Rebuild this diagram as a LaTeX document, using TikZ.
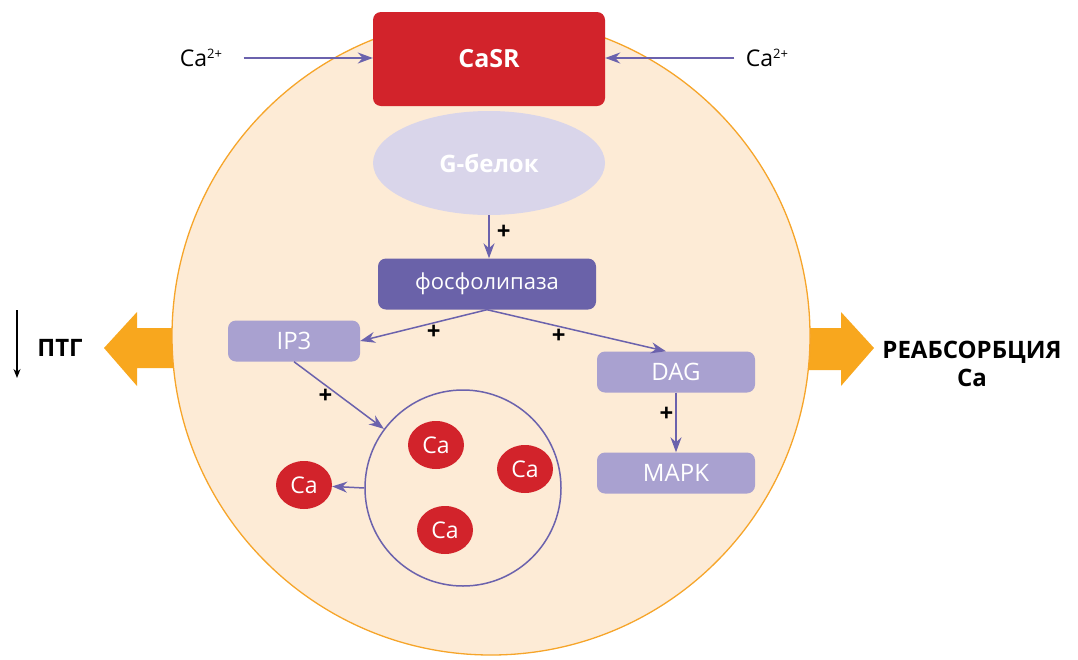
\documentclass[tikz,border=0pt]{standalone}
\usepackage{fontspec}
\setmainfont{Open Sans}
\usetikzlibrary{arrows.meta,shapes.geometric}

\definecolor{CellFill}{HTML}{FDEBD6}
\definecolor{CellEdge}{HTML}{F6A52A}
\definecolor{SignalOrange}{HTML}{F8A71E}
\definecolor{CaRed}{HTML}{D2232B}
\definecolor{GProtein}{HTML}{D9D5EA}
\definecolor{EnzymeDark}{HTML}{6A62A9}
\definecolor{EnzymeLight}{HTML}{A9A1D0}
\definecolor{FlowBlue}{HTML}{6B62AD}

\tikzstyle{cell-box}=[rectangle, rounded corners=8pt, inner sep=0pt, text=white, font=\fontsize{24}{28}\selectfont]
\tikzstyle{ca-ion}=[ellipse, fill=CaRed, minimum width=56, minimum height=48, inner sep=0pt, text=white, font=\fontsize{23}{26}\selectfont]
\tikzstyle{flow}=[draw=FlowBlue, line width=1.5pt, -{Stealth[length=15pt, width=11pt]}]
\tikzstyle{plus-sign}=[inner sep=1pt, font=\bfseries\fontsize{24}{24}\selectfont]
\tikzstyle{big-arrow}=[fill=SignalOrange]
\tikzstyle{ion-label}=[font=\fontsize{23}{28}\selectfont]
\newcommand{\charge}[1]{\raisebox{0.62ex}{\fontsize{13}{13}\selectfont #1}}

\begin{document}
\begin{tikzpicture}[x=1pt, y=-1pt]
      \useasboundingbox (0,0) rectangle (1078,659);

      % orange signal arrows, under the cell
      \fill[big-arrow] (180,328) -- (137,328) -- (137,312) -- (104,348) -- (137,386) -- (137,368) -- (180,368) -- cycle;
      \fill[big-arrow] (800,328) -- (841,328) -- (841,312) -- (874,348) -- (841,386) -- (841,370) -- (800,370) -- cycle;

      % cell
      \filldraw[fill=CellFill, draw=CellEdge, line width=1.3pt] (491,336) circle (319);

      % receptor and cascade
      \node (casr) at (489,59)
            [cell-box, fill=CaRed, minimum width=232, minimum height=94, font=\bfseries\fontsize{25}{28}\selectfont] {CaSR};
      \node (gprot) at (489,163)
            [ellipse, fill=GProtein, minimum width=232, minimum height=104, inner sep=0pt, text=white, font=\bfseries\fontsize{24}{28}\selectfont] {G-белок};
      \node (plc) at (487,284)
            [cell-box, fill=EnzymeDark, minimum width=218, minimum height=51, font=\fontsize{22}{26}\selectfont] {фосфолипаза};
      \node (ip3) at (294,341)
            [cell-box, fill=EnzymeLight, minimum width=132, minimum height=41] {IP3};
      \node (dag) at (676,372)
            [cell-box, fill=EnzymeLight, minimum width=158, minimum height=41] {DAG};
      \node (mapk) at (676,473)
            [cell-box, fill=EnzymeLight, minimum width=158, minimum height=41] {MAPK};

      % calcium store
      \node (store) at (463,488) [circle, draw=FlowBlue, line width=1.5pt, minimum size=196] {};
      \node (ca-a) at (436,445) [ca-ion] {Ca};
      \node (ca-b) at (525,469) [ca-ion] {Ca};
      \node (ca-c) at (445,530) [ca-ion] {Ca};
      \node (ca-out) at (304,485) [ca-ion] {Ca};

      % outside
      \node (ca-left) at (201,58) [ion-label] {Ca\charge{2+}};
      \node (ca-right) at (767,58) [ion-label] {Ca\charge{2+}};
      \node (ptg) at (60,348) [font=\bfseries\fontsize{24}{28}\selectfont] {ПТГ};
      \node (reabs) at (972,364) [align=center, font=\bfseries\fontsize{24}{28}\selectfont] {РЕАБСОРБЦИЯ\\Ca};
      \coordinate (ptg-top) at (17,310);
      \coordinate (ptg-bot) at (17,378);

      % connectors
      \draw[flow, shorten <=18pt] (ca-left.east) -- (casr.west |- ca-left.east);
      \draw[flow, shorten <=8pt] (ca-right.west) -- (casr.east |- ca-right.west);
      \draw[flow] (gprot.south) -- (gprot.south |- plc.north) node[plus-sign, pos=0.4, right=6pt] {+};
      \draw[flow] (plc.south) -- (ip3.east) node[plus-sign, pos=0.42, below=1pt] {+};
      \draw[flow] (plc.south) -- ([xshift=-10pt]dag.north) node[plus-sign, pos=0.4, below=1pt] {+};
      \draw[flow] (dag.south) -- (mapk.north) node[plus-sign, pos=0.37, left=1pt] {+};
      \draw[flow] (ip3.south) -- (store) node[plus-sign, pos=0.35, below=2pt] {+};
      \draw[flow] (store.west) -- (ca-out);
      \draw[-{Stealth[length=9pt, width=7pt]}, line width=1.1pt] (ptg-top) -- (ptg-bot);
    \end{tikzpicture}
\end{document}
